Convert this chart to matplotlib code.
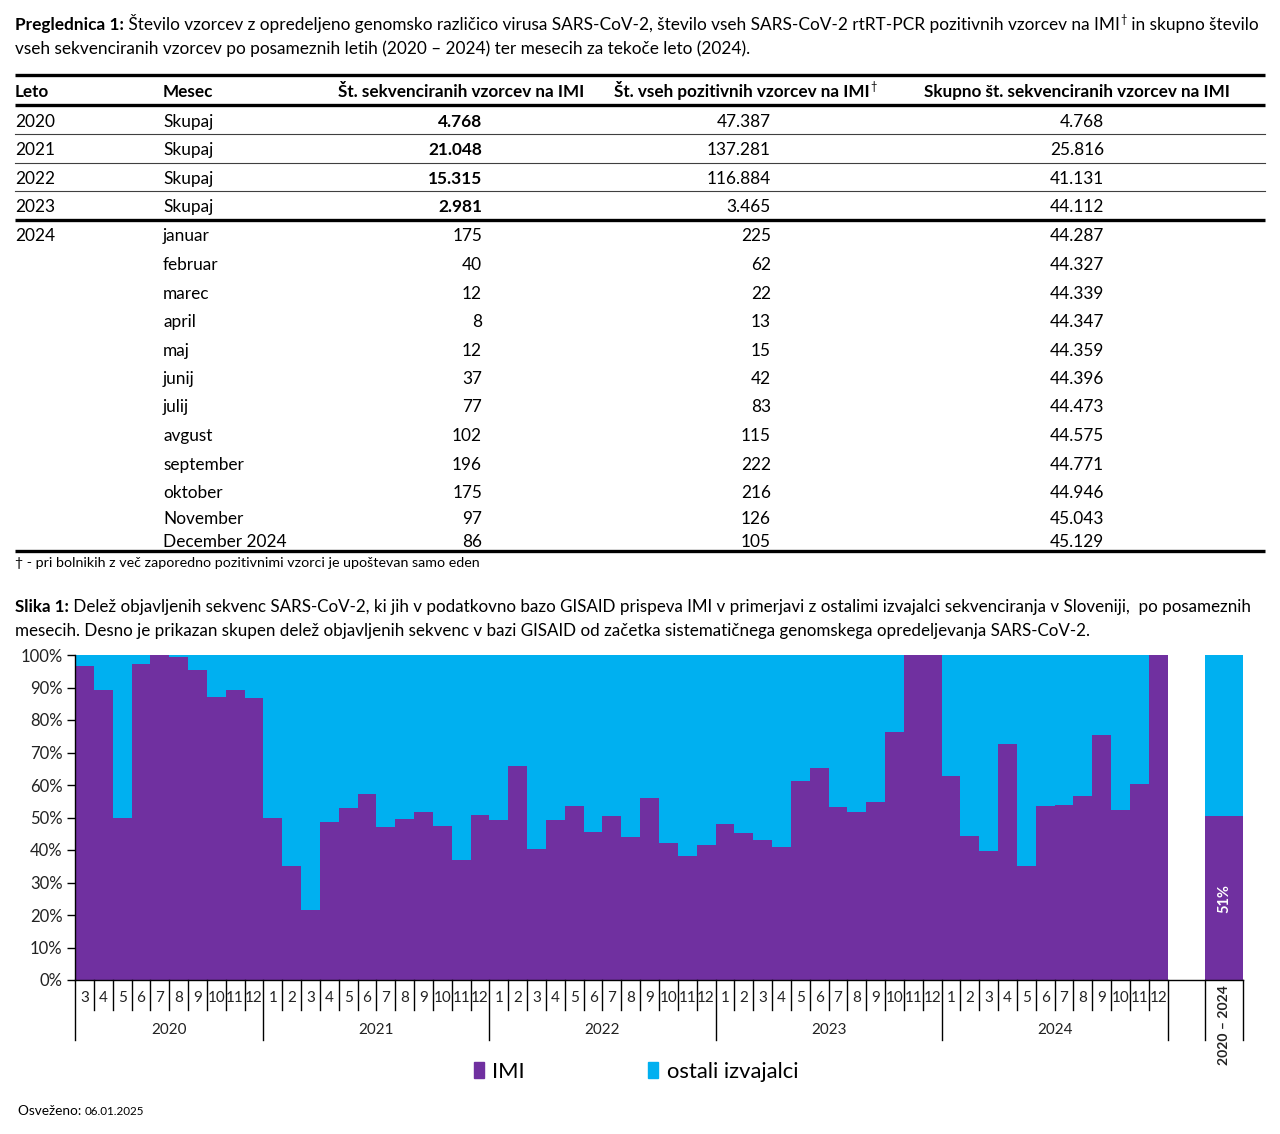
import matplotlib
matplotlib.use("Agg")

import matplotlib.pyplot as plt
import matplotlib.transforms as mtransforms
from matplotlib.patches import Patch

FONT = ["Lato", "DejaVu Sans"]
plt.rcParams["font.family"] = FONT

PURPLE = "#7030A0"
CYAN = "#00B0F0"
TEXT = "#000000"

# ── table data ────────────────────────────────────────────────────────────
year_rows = ["2020", "2021", "2022", "2023"]
year_seq = [4768, 21048, 15315, 2981]
year_pos = [47387, 137281, 116884, 3465]
year_cum = [4768, 25816, 41131, 44112]

months_2024 = ["januar", "februar", "marec", "april", "maj", "junij", "julij",
               "avgust", "september", "oktober", "November", "December 2024"]
month_seq = [175, 40, 12, 8, 12, 37, 77, 102, 196, 175, 97, 86]
month_pos = [225, 62, 22, 13, 15, 42, 83, 115, 222, 216, 126, 105]
month_cum = [44287, 44327, 44339, 44347, 44359, 44396, 44473, 44575,
             44771, 44946, 45043, 45129]

# ── chart data: IMI share (%) per month, 2020-03 … 2024-12 ────────────────
chart_years = ["2020", "2021", "2022", "2023", "2024"]
month_labels = ([str(m) for m in range(3, 13)] +
                [str(m) for m in range(1, 13)] * 4)
imi_share = [
    96.7, 89.3, 49.9, 97.3, 100.0, 99.5, 95.5, 87.2, 89.3, 86.8,              # 2020
    49.9, 35.1, 21.4, 48.7, 53.0, 57.3, 47.2, 49.6, 51.8, 47.5, 37.0, 50.9,  # 2021
    49.3, 65.9, 40.4, 49.1, 53.6, 45.6, 50.6, 44.1, 56.1, 42.2, 38.2, 41.6,  # 2022
    47.9, 45.3, 43.0, 41.0, 61.3, 65.1, 53.3, 51.8, 54.9, 76.2, 100.0, 100.0,  # 2023
    62.9, 44.4, 39.8, 72.7, 35.2, 53.6, 53.9, 56.5, 75.5, 52.4, 60.2, 100.0,  # 2024
]
total_label = "2020 – 2024"
total_imi_share = 50.6


def fmt(n):
    return f"{n:,}".replace(",", ".")


W, H = 1280, 1134
fig = plt.figure(figsize=(W / 100, H / 100), dpi=100)

# overlay in pixel coordinates for the table and captions
tax = fig.add_axes([0, 0, 1, 1])
tax.set_xlim(0, W)
tax.set_ylim(H, 0)
tax.axis("off")
renderer = fig.canvas.get_renderer()


def rich(x, y, parts, size):
    """Draw consecutive text pieces on one baseline, return end x."""
    for s, weight in parts:
        if s == "†":
            t = tax.text(x + 1, y - size * 0.6, s, fontsize=size * 0.65,
                         va="baseline", ha="left", color=TEXT)
            x += t.get_window_extent(renderer).width + 1
            continue
        t = tax.text(x, y, s, fontsize=size, fontweight=weight,
                     va="baseline", ha="left", color=TEXT)
        x += t.get_window_extent(renderer).width
    return x


TS = 12.4
rich(15, 30, [("Preglednica 1:", "bold"),
              (" Število vzorcev z opredeljeno genomsko različico virusa SARS-CoV-2, "
               "število vseh SARS-CoV-2 rtRT-PCR pozitivnih vzorcev na IMI", "normal"),
              ("†", "normal"), (" in skupno število", "normal")], TS)
rich(15, 54, [("vseh sekvenciranih vzorcev po posameznih letih (2020 – 2024) ter mesecih "
               "za tekoče leto (2024).", "normal")], TS)

# table rules
x0, x1 = 15, 1265
tax.plot([x0, x1], [75, 75], color="black", lw=2.4, solid_capstyle="butt")
tax.plot([x0, x1], [105, 105], color="black", lw=2.4, solid_capstyle="butt")
for yy in [134, 163, 191]:
    tax.plot([x0, x1], [yy, yy], color="#404040", lw=0.8)
tax.plot([x0, x1], [220, 220], color="black", lw=2.4, solid_capstyle="butt")
tax.plot([x0, x1], [551, 551], color="black", lw=2.4, solid_capstyle="butt")

# header
HS = 12.3
hy = 97
rich(15, hy, [("Leto", "bold")], HS)
rich(163, hy, [("Mesec", "bold")], HS)
rich(338, hy, [("Št. sekvenciranih vzorcev na IMI", "bold")], HS)
rich(614, hy, [("Št. vseh pozitivnih vzorcev na IMI", "bold"), ("†", "normal")], HS)
rich(924, hy, [("Skupno št. sekvenciranih vzorcev na IMI", "bold")], HS)

# body
BS = 12.4
COL3, COL4, COL5 = 482, 771, 1104
row_y = [127, 155, 184, 212]
for yy, yr, a, b, c in zip(row_y, year_rows, year_seq, year_pos, year_cum):
    tax.text(15, yy, yr, fontsize=BS, va="baseline")
    tax.text(163, yy, "Skupaj", fontsize=BS, va="baseline")
    tax.text(COL3, yy, fmt(a), fontsize=BS, fontweight="bold", va="baseline", ha="right")
    tax.text(COL4, yy, fmt(b), fontsize=BS, va="baseline", ha="right")
    tax.text(COL5, yy, fmt(c), fontsize=BS, va="baseline", ha="right")

month_y = [241, 270, 299, 327, 356, 384, 412, 441, 470, 498, 524, 547]
tax.text(15, month_y[0], "2024", fontsize=BS, va="baseline")
for yy, m, a, b, c in zip(month_y, months_2024, month_seq, month_pos, month_cum):
    tax.text(163, yy, m, fontsize=BS, va="baseline")
    tax.text(COL3, yy, fmt(a), fontsize=BS, va="baseline", ha="right")
    tax.text(COL4, yy, fmt(b), fontsize=BS, va="baseline", ha="right")
    tax.text(COL5, yy, fmt(c), fontsize=BS, va="baseline", ha="right")

tax.text(15, 567, "† - pri bolnikih z več zaporedno pozitivnimi vzorci je upoštevan samo eden",
         fontsize=10.3, va="baseline")

CS = 12.25
rich(15, 612, [("Slika 1:", "bold"),
               (" Delež objavljenih sekvenc SARS-CoV-2, ki jih v podatkovno bazo GISAID prispeva "
                "IMI v primerjavi z ostalimi izvajalci sekvenciranja v Sloveniji,  po posameznih",
                "normal")], CS)
rich(15, 636, [("mesecih. Desno je prikazan skupen delež objavljenih sekvenc v bazi GISAID od "
                "začetka sistematičnega genomskega opredeljevanja SARS-CoV-2.", "normal")], CS)

# ── chart ─────────────────────────────────────────────────────────────────
n = len(imi_share)
slots = n + 4
ax_left, ax_right = 75, 1243
ax_top, ax_bot = 655, 980
ax = fig.add_axes([ax_left / W, 1 - ax_bot / H, (ax_right - ax_left) / W,
                   (ax_bot - ax_top) / H])
xs = list(range(n))
other_share = [100 - v for v in imi_share]
ax.bar(xs, imi_share, width=1, align="edge", color=PURPLE, linewidth=0)
ax.bar(xs, other_share, bottom=imi_share, width=1, align="edge", color=CYAN, linewidth=0)
ax.bar([n + 2], [total_imi_share], width=2, align="edge", color=PURPLE, linewidth=0)
ax.bar([n + 2], [100 - total_imi_share], bottom=[total_imi_share], width=2,
       align="edge", color=CYAN, linewidth=0)
ax.text(n + 3, 25, f"{round(total_imi_share)}%", rotation=90, color="white",
        fontsize=10.5, fontweight="bold", ha="center", va="center")

ax.set_xlim(0, slots)
ax.set_ylim(0, 100)
ax.set_yticks(range(0, 101, 10))
ax.set_yticklabels([f"{v}%" for v in range(0, 101, 10)])
ax.tick_params(axis="y", direction="out", length=6, width=1, labelsize=12,
               labelcolor="#222222", pad=3)
ax.set_xticks([])
for s in ["top", "right"]:
    ax.spines[s].set_visible(False)
ax.spines["left"].set_linewidth(1)
ax.spines["bottom"].set_linewidth(1)

trans = mtransforms.blended_transform_factory(ax.transData, ax.transAxes)
hpx = ax_bot - ax_top
short = -30 / hpx
long_ = -60 / hpx
year_edges = [0] + [10 + 12 * k for k in range(5)]
for i in range(n + 1):
    low = long_ if i in year_edges else short
    ax.plot([i, i], [0, low], transform=trans, color="black", lw=1, clip_on=False)
for xx in [n + 2, n + 4]:
    ax.plot([xx, xx], [0, long_], transform=trans, color="black", lw=1, clip_on=False)
for i, lab in enumerate(month_labels):
    ax.text(i + 0.5, -18 / hpx, lab, transform=trans, ha="center", va="center",
            fontsize=11, color="#222222")
for k, yr in enumerate(chart_years):
    ax.text((year_edges[k] + year_edges[k + 1]) / 2, -50 / hpx, yr, transform=trans,
            ha="center", va="center", fontsize=11, color="#222222")
ax.text(n + 3, -5 / hpx, total_label, transform=trans, rotation=90, ha="center",
        va="top", fontsize=10, fontweight="bold", color="#222222")

handles = [Patch(color=PURPLE, label="IMI"), Patch(color=CYAN, label="ostali izvajalci")]
fig.legend(handles=handles, loc="center", bbox_to_anchor=(636 / W, 1 - 1072 / H),
           ncol=2, frameon=False, fontsize=15.8, handlelength=0.45, handleheight=0.75,
           handletextpad=0.4, columnspacing=5.6)

x_os = rich(18, 1115, [("Osveženo: ", "normal")], 9.8)
rich(x_os, 1115, [("06.01.2025", "normal")], 8.4)

fig.savefig("out.png", dpi=100)
